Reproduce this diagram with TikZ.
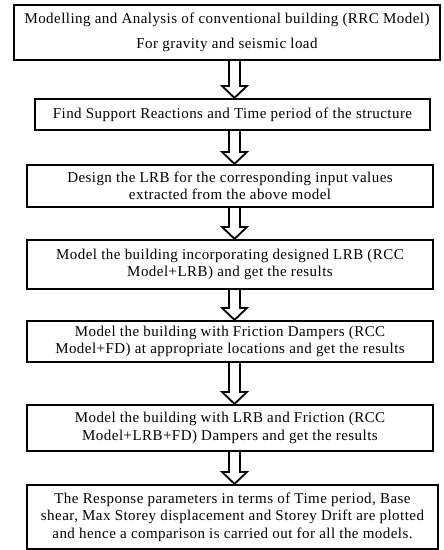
\documentclass[tikz,border=0pt]{standalone}
\usepackage{fontspec}
\setmainfont{Liberation Serif}[LetterSpace=3]
\usetikzlibrary{calc}
\begin{document}
\begin{tikzpicture}[x=1pt,y=-1pt,
  box/.style={draw, line width=2.2pt, inner sep=0pt, align=center,
    font=\fontsize{15}{17.5}\selectfont},
  hollow/.style={draw, line width=1.8pt, line join=miter, to path={
    ($(\tikztostart.south -| ax)+(-5.5,0)$) -- ($(\tikztotarget.north -| ax)+(-5.5,-12)$)
    -- ++(-7,0) -- (\tikztotarget.north -| ax) -- ++(12.5,-12) -- ++(-7,0)
    -- ($(\tikztostart.south -| ax)+(5.5,0)$)}}]
\useasboundingbox (0,0) rectangle (444,550);
\fill[white] (0,0) rectangle (444,550);
\coordinate (ax) at (234.5,0);
\node[box, minimum width=426, minimum height=55] (b1) at (227,32.5)
  {Modelling and Analysis of conventional building (RRC Model)\\[8pt] For gravity and seismic load};
\node[box, minimum width=395, minimum height=31] (b2) at (232.5,114.5)
  {Find Support Reactions and Time period of the structure};
\node[box, minimum width=406, minimum height=42] (b3) at (230,186)
  {Design the LRB for the corresponding input values\\ extracted from the above model};
\node[box, minimum width=406, minimum height=49] (b4) at (230,264.5)
  {Model the building incorporating designed LRB (RCC\\ Model+LRB) and get the results};
\node[box, minimum width=406, minimum height=41] (b5) at (230,341.5)
  {Model the building with Friction Dampers (RCC\\ Model+FD) at appropriate locations and get the results};
\node[box, minimum width=406, minimum height=46] (b6) at (230,428)
  {Model the building with LRB and Friction (RCC\\ Model+LRB+FD) Dampers and get the results};
\node[box, minimum width=411, minimum height=64] (b7) at (232.5,517)
  {The Response parameters in terms of Time period, Base\\ shear, Max Storey displacement and Storey Drift are plotted\\ and hence a comparison is carried out for all the models.};
\draw[hollow] (b1) to (b2);
\draw[hollow] (b2) to (b3);
\draw[hollow] (b3) to (b4);
\draw[hollow] (b4) to (b5);
\draw[hollow] (b5) to (b6);
\draw[hollow] (b6) to (b7);
\end{tikzpicture}
\end{document}
